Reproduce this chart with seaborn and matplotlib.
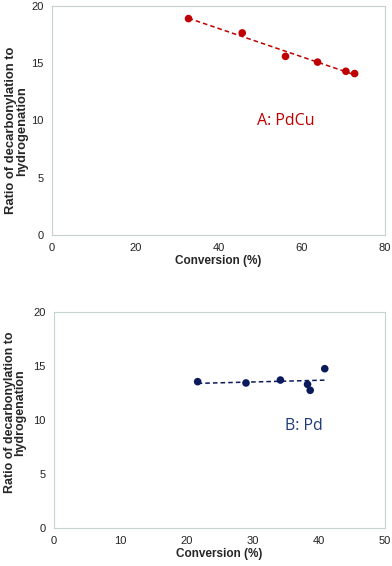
import pandas as pd
import matplotlib.pyplot as plt
import seaborn as sns

# A: PdCu
pdcu_conv = [32.8, 45.7, 56.1, 63.8, 70.6, 72.7]
pdcu_ratio = [18.9, 17.65, 15.6, 15.1, 14.3, 14.1]
# B: Pd
pd_conv = [21.7, 29.0, 34.2, 38.3, 38.7, 40.9]
pd_ratio = [13.55, 13.43, 13.7, 13.3, 12.75, 14.75]

df_a = pd.DataFrame({"Conversion": pdcu_conv, "Ratio": pdcu_ratio})
df_b = pd.DataFrame({"Conversion": pd_conv, "Ratio": pd_ratio})

sns.set_theme(style="white")
plt.rcParams["font.family"] = ["Liberation Sans", "DejaVu Sans"]

fig = plt.figure(figsize=(3.92, 5.66), dpi=100)
ax1 = fig.add_axes([52 / 392, 1 - 235 / 566, 333 / 392, 229 / 566])
ax2 = fig.add_axes([54 / 392, 1 - 528 / 566, 331 / 392, 216 / 566])

red = "#C00000"
navy = "#0B1A5C"

panels = [
    (ax1, df_a, red, "#C00000", "A: PdCu", (80, 20), 56.2, 9.95, 0.455, 9.4, -0.073),
    (ax2, df_b, navy, "#1F3A7A", "B: Pd", (50, 20), 37.7, 9.4, 0.535, 8.9, -0.083),
]

for ax, df, col, tcol, label, (xmax, ymax), tx, ty, ly, lsize, lx in panels:
    sns.regplot(data=df, x="Conversion", y="Ratio", ax=ax, ci=None, scatter=False,
                line_kws={"color": col, "linestyle": (0, (3, 2)), "linewidth": 1.1})
    sns.scatterplot(data=df, x="Conversion", y="Ratio", ax=ax, color=col, s=30,
                    edgecolor="none", zorder=3)
    ax.set_xlim(0, xmax)
    ax.set_ylim(0, ymax)
    ax.set_yticks([0, 5, 10, 15, 20])
    ax.set_xlabel("Conversion (%)", fontsize=8.5, fontweight="bold", labelpad=1)
    ax.set_ylabel("Ratio of decarbonylation to\nhydrogenation", fontsize=lsize,
                  fontweight="bold", linespacing=0.85)
    ax.yaxis.set_label_coords(lx, ly)
    ax.tick_params(labelsize=8, length=0, pad=6, colors="#222222")
    for sp in ax.spines.values():
        sp.set_color("#C5D2D2")
        sp.set_linewidth(0.8)
    ax.text(tx, ty, label, color=tcol, fontsize=11.5, ha="center", va="center",
            family=["Open Sans", "DejaVu Sans"])

ax1.set_xticks([0, 20, 40, 60, 80])
ax2.set_xticks([0, 10, 20, 30, 40, 50])

fig.savefig("out.png", dpi=100)
